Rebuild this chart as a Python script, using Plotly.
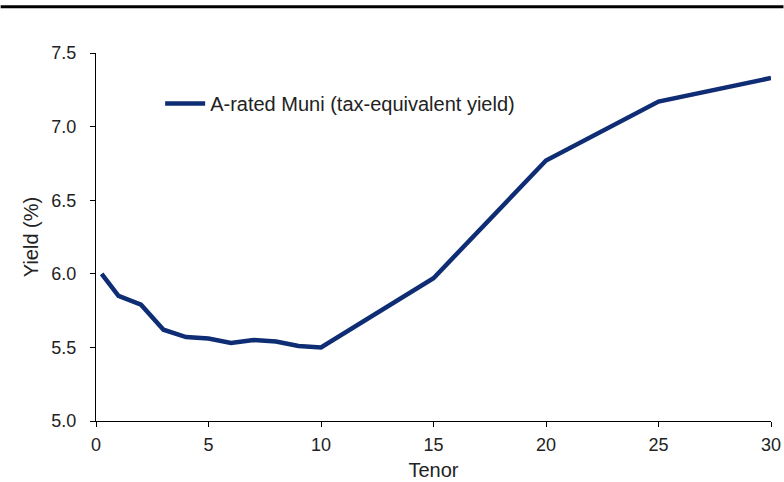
import plotly.graph_objects as go

tenor = [0.25, 1, 2, 3, 4, 5, 6, 7, 8, 9, 10, 15, 20, 25, 30]
yield_pct = [6.00, 5.85, 5.79, 5.62, 5.57, 5.56, 5.53, 5.55, 5.54, 5.51, 5.50, 5.97, 6.77, 7.17, 7.33]
series_name = "A-rated Muni (tax-equivalent yield)"
x_ticks = [0, 5, 10, 15, 20, 25, 30]
y_ticks = [5.0, 5.5, 6.0, 6.5, 7.0, 7.5]

fig = go.Figure()
fig.add_trace(go.Scatter(
    x=tenor, y=yield_pct, mode="lines", name=series_name,
    line=dict(color="#0F2D74", width=4.5),
))

W, H = 784, 482
ml, mr, mt, mb = 95.5, 12.5, 52.5, 61.3
FONT = "Liberation Sans, Arial, sans-serif"
fig.update_layout(
    width=W, height=H,
    margin=dict(l=ml, r=mr, t=mt, b=mb, pad=0, autoexpand=False),
    paper_bgcolor="white", plot_bgcolor="white",
    font=dict(family=FONT, size=18, color="#222222"),
    showlegend=True,
    legend=dict(x=0.095, y=0.863, xanchor="left", yanchor="middle",
                bgcolor="rgba(0,0,0,0)", font=dict(size=20, color="#222222"),
                itemwidth=40, tracegroupgap=0),
    xaxis=dict(
        range=[0, 30], tickvals=x_ticks, ticktext=[str(v) for v in x_ticks],
        showgrid=False, zeroline=False, showline=True, linecolor="black", linewidth=1,
        ticks="outside", ticklen=5, tickcolor="black", automargin=False,
        ticklabelstandoff=2,
        title=dict(text="Tenor", standoff=9, font=dict(size=20)),
        tickfont=dict(family=FONT, size=18),
    ),
    yaxis=dict(
        range=[5.0, 7.5], tickvals=y_ticks, ticktext=[f"{v:.1f}" for v in y_ticks],
        showgrid=False, zeroline=False, showline=True, linecolor="black", linewidth=1,
        ticks="outside", ticklen=5, tickcolor="black", automargin=False,
        ticklabelstandoff=10,
        title=dict(text="Yield (%)", standoff=7, font=dict(size=20)),
        tickfont=dict(family=FONT, size=18),
    ),
)

# top rule across the full page width
pw = W - ml - mr
ph = H - mt - mb
yr = 1 + (mt - 6.3) / ph
fig.add_shape(type="line", xref="paper", yref="paper",
              x0=-ml / pw, x1=(pw + mr) / pw, y0=yr, y1=yr,
              line=dict(color="black", width=3))

fig.write_html("out.html", config={"displayModeBar": False},
               post_script="document.body.style.margin='0';")
